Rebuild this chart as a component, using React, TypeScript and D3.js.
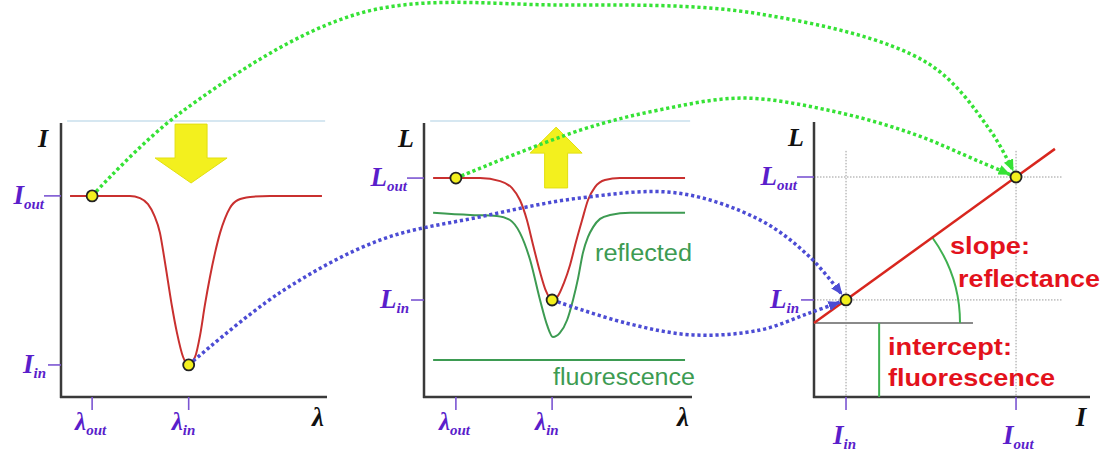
import React from "react"
import * as d3 from "d3"

const W = 1105
const H = 452

// left panel: incident spectrum I(λ), arbitrary units 0-100
const incLambda = [3.4, 25.9, 29.7, 32.7, 35.0, 37.2, 38.7, 40.2, 41.7, 43.6, 45.9, 48.0, 50.4, 52.3, 54.1, 56.0, 57.9, 59.8, 61.7, 63.5, 66.5, 71.1, 78.6, 98.1]
const incValue = [73.4, 73.4, 72.6, 70.4, 66.4, 59.9, 51.5, 42.3, 33.2, 23.4, 14.6, 11.7, 14.6, 22.6, 33.6, 43.8, 52.6, 59.9, 65.3, 69.0, 71.9, 73.0, 73.4, 73.4]

// middle panel: leaving radiance L(λ)
const radLambda = [3.4, 20.9, 28.4, 32.8, 35.8, 38.4, 40.7, 43.3, 45.5, 47.8, 50.0, 52.2, 54.5, 56.7, 59.0, 61.2, 63.8, 67.5, 73.1, 97.4]
const radValue = [79.9, 79.9, 78.8, 76.3, 71.9, 64.6, 55.5, 45.6, 38.7, 35.4, 36.9, 41.6, 48.2, 56.6, 64.6, 71.9, 76.6, 79.2, 79.9, 79.9]
// reflected part
const reflLambda = [3.4, 17.2, 27.2, 32.1, 35.8, 39.6, 43.3, 45.9, 48.1, 50.7, 53.4, 55.6, 57.5, 59.3, 61.2, 63.1, 65.7, 69.4, 76.9, 97.4]
const reflValue = [67.2, 66.4, 66.1, 64.6, 59.9, 50.0, 35.4, 26.3, 21.9, 23.4, 28.1, 35.4, 43.4, 52.6, 58.4, 62.0, 65.0, 66.4, 67.2, 67.2]
// fluorescence is flat
const fluorLambda = [3.4, 97.4]
const fluorValue = [13.5, 13.5]

// ticks (subscript labels)
const subLabels = ["out", "in"]
const p1LambdaTicks = [11.7, 48.0]
const p1ITicks = [73.4, 11.7]
const p2LambdaTicks = [11.9, 47.8]
const p2LTicks = [79.9, 35.4]
const p3ITicks = [73.2, 11.6]
const p3LTicks = [80.0, 35.3]

// right panel extras
const p3LineEndI = 87.3
const p3GridTop = 89.5
const p3GridRight = 90.2
const p3BaseRight = 57.6
const p3InterceptI = 23.6
const p3ArcR = 52.9

// dotted connectors: waypoints as fractions of the figure
const greenFarVia = [[0.163, 0.25], [0.326, 0.029], [0.507, 0.011], [0.688, 0.031], [0.839, 0.139], [0.896, 0.288]]
const greenNearVia = [[0.525, 0.288], [0.597, 0.243], [0.672, 0.217], [0.748, 0.243], [0.824, 0.294], [0.887, 0.358]]
const blueFarVia = [[0.253, 0.648], [0.344, 0.531], [0.434, 0.48], [0.525, 0.438], [0.613, 0.427], [0.688, 0.487], [0.733, 0.569]]
const blueNearVia = [[0.567, 0.715], [0.627, 0.741], [0.688, 0.73], [0.733, 0.692]]

const AXIS = "#3a3a3a"
const PURPLE = "#5a1ecb"
const TICK = "#7b55d2"
const RED = "#c9302f"
const GREEN = "#3d9b52"
const DOT_GREEN = "#36e236"
const DOT_BLUE = "#4c4cd4"
const YELLOW = "#f3f01e"
const SERIF = "'Liberation Serif', 'Times New Roman', serif"
const SANS = "'Liberation Sans', Arial, sans-serif"

const x1 = d3.scaleLinear().domain([0, 100]).range([61, 327])
const y1 = d3.scaleLinear().domain([0, 100]).range([397, 123])
const x2 = d3.scaleLinear().domain([0, 100]).range([424, 692])
const y2 = d3.scaleLinear().domain([0, 100]).range([397, 123])
const x3 = d3.scaleLinear().domain([0, 100]).range([814, 1090])
const y3 = d3.scaleLinear().domain([0, 100]).range([397, 122])
const gx = d3.scaleLinear().domain([0, 1]).range([0, W])
const gy = d3.scaleLinear().domain([0, 1]).range([0, H])

const curve = (xs, ys, sx, sy) =>
    d3.line<number>().x(i => sx(xs[i])).y(i => sy(ys[i])).curve(d3.curveMonotoneX)(xs.map((_, i) => i))

const SubLabel = ({x, y, main, sub, anchor, size = 27, color = PURPLE}) => (
    <text x={x} y={y} textAnchor={anchor} fill={color} fontFamily={SERIF} fontWeight="bold" fontStyle="italic" fontSize={size}>
        <tspan>{main}</tspan>
        <tspan fontSize={15} dy={5}>{sub}</tspan>
    </text>
)

const Axes = ({sx, sy, name, xName, yTicks, xTicks, yMain, xMain, topLine}) => {
    const [x0, xe] = sx.range()
    const [yb, yt] = sy.range()
    const isLambda = xMain === "λ"
    return (
        <g>
            {topLine && <line x1={sx(2.3)} x2={sx(99.3)} y1={sy(100.7)} y2={sy(100.7)} stroke="#c8dfec" strokeWidth={1.5} />}
            <line x1={x0} x2={x0} y1={yt} y2={yb + 1} stroke={AXIS} strokeWidth={2.5} />
            <line x1={x0 - 1} x2={xe} y1={yb} y2={yb} stroke={AXIS} strokeWidth={2.5} />
            {yTicks.map((v, i) => (
                <g key={"y" + i}>
                    <line x1={x0 - (i ? 13 : 17)} x2={x0} y1={sy(v)} y2={sy(v)} stroke={TICK} strokeWidth={1.6} />
                    <SubLabel x={x0 - (i ? 15 : 17)} y={sy(v) + 8} main={yMain} sub={subLabels[i]} anchor="end" />
                </g>
            ))}
            {xTicks.map((v, i) => (
                <g key={"x" + i}>
                    <line x1={sx(v)} x2={sx(v)} y1={yb} y2={yb + 13} stroke={TICK} strokeWidth={1.6} />
                    <SubLabel x={sx(v) - (isLambda ? 17 : 13)} y={isLambda ? 430 : 444} main={xMain} sub={subLabels[i]} anchor="start" size={isLambda ? 25 : 27} />
                </g>
            ))}
            <text x={x0 - 18} y={yt + 24} textAnchor="middle" fontFamily={SERIF} fontWeight="bold" fontStyle="italic" fontSize={26} fill="#111">{name}</text>
            <text x={xe - 9} y={yb + 29} textAnchor="middle" fontFamily={SERIF} fontWeight="bold" fontStyle="italic" fontSize={27} fill="#111">{xName}</text>
        </g>
    )
}

const blockArrow = (cx, from, tip, shaftHW, headHW, headLen) => {
    const dir = tip > from ? 1 : -1
    const base = tip - dir * headLen
    return [
        [cx - shaftHW, from], [cx + shaftHW, from], [cx + shaftHW, base], [cx + headHW, base],
        [cx, tip], [cx - headHW, base], [cx - shaftHW, base]
    ].map(p => p.join(",")).join(" ")
}

const Dot = ({cx, cy}) => <circle cx={cx} cy={cy} r={5.5} fill={YELLOW} stroke="#222" strokeWidth={1.8} />

export default function App() {
    const conn = d3.line<number[]>().x(d => d[0]).y(d => d[1]).curve(d3.curveCatmullRom.alpha(0.5))
    const viaPx = via => via.map(d => [gx(d[0]), gy(d[1])])

    const pIout = [x1(p1LambdaTicks[0]), y1(p1ITicks[0])]
    const pIin = [x1(p1LambdaTicks[1]), y1(p1ITicks[1])]
    const pLout = [x2(p2LambdaTicks[0]), y2(p2LTicks[0])]
    const pLin = [x2(p2LambdaTicks[1]), y2(p2LTicks[1])]
    const qOut = [x3(p3ITicks[0]), y3(p3LTicks[0])]
    const qIn = [x3(p3ITicks[1]), y3(p3LTicks[1])]

    const connectors = [
        {pts: [pIout, ...viaPx(greenFarVia), qOut], c: DOT_GREEN, m: "ag"},
        {pts: [pLout, ...viaPx(greenNearVia), qOut], c: DOT_GREEN, m: "ag"},
        {pts: [pIin, ...viaPx(blueFarVia), qIn], c: DOT_BLUE, m: "ab"},
        {pts: [pLin, ...viaPx(blueNearVia), qIn], c: DOT_BLUE, m: "ab"},
    ]

    // right panel line through the two measured pairs
    const slope = (p3LTicks[0] - p3LTicks[1]) / (p3ITicks[0] - p3ITicks[1])
    const intercept = p3LTicks[1] - slope * p3ITicks[1]
    const ox = x3(0), oy = y3(intercept)
    const theta = Math.atan2(y3(intercept) - y3(intercept + slope * 10), x3(10) - x3(0))
    const r = x3(p3ArcR) - x3(0)
    const arc = d3.path()
    arc.moveTo(ox + r, oy)
    arc.arc(ox, oy, r, 0, -theta, true)

    return (
        <svg width={W} height={H} style={{position: "absolute", left: 0, top: 0, background: "#fff"}}>
            <defs>
                {[["ag", DOT_GREEN], ["ab", DOT_BLUE]].map(([id, c]) => (
                    <marker key={id} id={id} markerUnits="userSpaceOnUse" markerWidth={20} markerHeight={12} refX={18} refY={5} orient="auto" viewBox="0 0 20 10">
                        <path d="M0,0 L12,5 L0,10 Z" fill={c} />
                    </marker>
                ))}
            </defs>

            {/* left panel */}
            <Axes sx={x1} sy={y1} name="I" xName="λ" yTicks={p1ITicks} xTicks={p1LambdaTicks} yMain="I" xMain="λ" topLine />
            <polygon points={blockArrow(x1(48.9), y1(99.6), y1(78.1), 16, 36, 25)} fill={YELLOW} stroke="#e2df10" strokeWidth={1} />
            <path d={curve(incLambda, incValue, x1, y1)} fill="none" stroke={RED} strokeWidth={2} />

            {/* middle panel */}
            <Axes sx={x2} sy={y2} name="L" xName="λ" yTicks={p2LTicks} xTicks={p2LambdaTicks} yMain="L" xMain="λ" topLine />
            <polygon points={blockArrow(x2(49.3), y2(76.3), y2(98.5), 11.5, 26, 26)} fill={YELLOW} stroke="#e2df10" strokeWidth={1} />
            <path d={curve(reflLambda, reflValue, x2, y2)} fill="none" stroke={GREEN} strokeWidth={2} />
            <path d={curve(fluorLambda, fluorValue, x2, y2)} fill="none" stroke={GREEN} strokeWidth={2} />
            <path d={curve(radLambda, radValue, x2, y2)} fill="none" stroke={RED} strokeWidth={2} />
            <text x={595} y={261} fill={GREEN} fontFamily={SANS} fontSize={23} textLength={97} lengthAdjust="spacingAndGlyphs">reflected</text>
            <text x={553} y={385} fill={GREEN} fontFamily={SANS} fontSize={23} textLength={142} lengthAdjust="spacingAndGlyphs">fluorescence</text>

            {/* right panel */}
            {p3ITicks.map((v, i) => (
                <line key={"gv" + i} x1={x3(v)} x2={x3(v)} y1={y3(p3GridTop)} y2={y3(0)} stroke="#999" strokeWidth={1} strokeDasharray="1.5 1.5" />
            ))}
            {p3LTicks.map((v, i) => (
                <line key={"gh" + i} x1={x3(0)} x2={x3(p3GridRight)} y1={y3(v)} y2={y3(v)} stroke="#999" strokeWidth={1} strokeDasharray="1.5 1.5" />
            ))}
            <Axes sx={x3} sy={y3} name="L" xName="I" yTicks={p3LTicks} xTicks={p3ITicks} yMain="L" xMain="I" />
            <line x1={x3(0)} x2={x3(p3BaseRight)} y1={oy} y2={oy} stroke="#8a8a8a" strokeWidth={2} />
            <line x1={x3(p3InterceptI)} x2={x3(p3InterceptI)} y1={oy} y2={y3(0)} stroke="#3fb050" strokeWidth={2} />
            <path d={arc.toString()} fill="none" stroke="#3fb050" strokeWidth={2} />
            <line x1={x3(0)} x2={x3(p3LineEndI)} y1={oy} y2={y3(intercept + slope * p3LineEndI)} stroke="#d8261e" strokeWidth={2.5} />
            <g fill="#e3121c" fontFamily={SANS} fontWeight="bold" fontSize={24}>
                <text x={950} y={254} textLength={80} lengthAdjust="spacingAndGlyphs">slope:</text>
                <text x={958} y={287} textLength={142} lengthAdjust="spacingAndGlyphs">reflectance</text>
                <text x={888} y={355} textLength={124} lengthAdjust="spacingAndGlyphs">intercept:</text>
                <text x={888} y={386} textLength={167} lengthAdjust="spacingAndGlyphs">fluorescence</text>
            </g>

            {/* dotted connectors */}
            {connectors.map((c, i) => (
                <path key={"c" + i} d={conn(c.pts)} fill="none" stroke={c.c} strokeWidth={3.5} strokeDasharray="3.2 2.8" markerEnd={`url(#${c.m})`} />
            ))}

            {[pIout, pIin, pLout, pLin, qOut, qIn].map((p, i) => <Dot key={"d" + i} cx={p[0]} cy={p[1]} />)}
        </svg>
    )
}
